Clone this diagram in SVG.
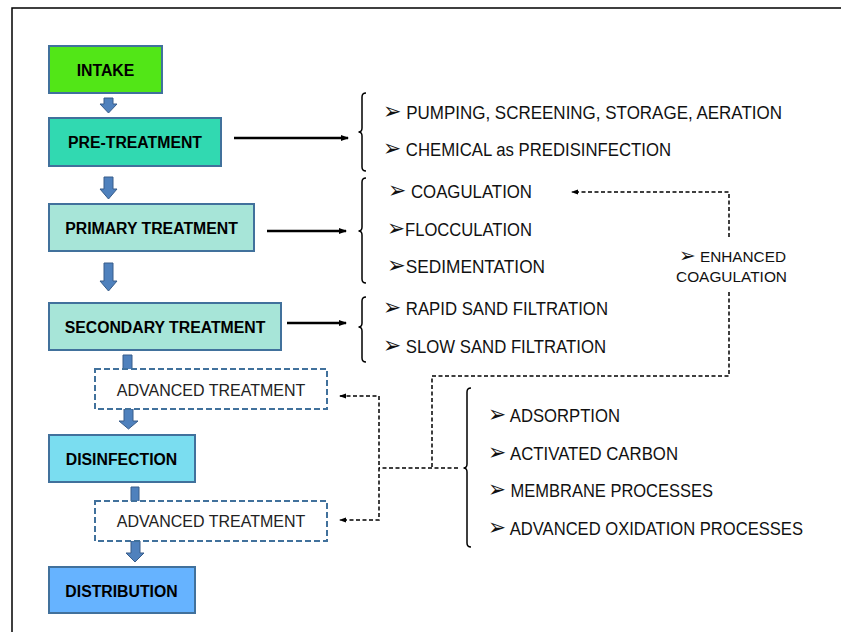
<svg xmlns="http://www.w3.org/2000/svg" width="841" height="632" viewBox="0 0 841 632">
<defs>
<style>
.box{stroke:#41719C;stroke-width:2}
.dbox{fill:#fff;stroke:#41719C;stroke-width:2;stroke-dasharray:6 3}
.bt{font-family:"Liberation Sans",Arial,sans-serif;font-weight:bold;font-size:15.8px;fill:#000;text-anchor:middle}
.at{font-family:"Liberation Sans",Arial,sans-serif;font-size:16px;fill:#222;text-anchor:middle}
.lt{font-family:"Liberation Sans","DejaVu Sans",sans-serif;font-size:18px;fill:#111}
.st{font-family:"Liberation Sans","DejaVu Sans",sans-serif;font-size:15px;fill:#111}
.ar{font-family:"DejaVu Sans",sans-serif;font-size:1.3em}
.blk{fill:#4F81BD;stroke:#385D8A;stroke-width:1}
.sol{stroke:#000;stroke-width:2.3;fill:none}
.dash{stroke:#000;stroke-width:1.5;fill:none;stroke-dasharray:4 2.5}
.brace{stroke:#000;stroke-width:1.5;fill:none}
</style>
<marker id="ah" markerWidth="8" markerHeight="8" refX="7" refY="4" orient="auto" markerUnits="userSpaceOnUse">
<path d="M0,1 L8,4 L0,7 Z" fill="#000"/>
</marker>
<marker id="dh" markerWidth="7" markerHeight="6" refX="6" refY="3" orient="auto-start-reverse" markerUnits="userSpaceOnUse">
<path d="M0,0.5 L7,3 L0,5.5 Z" fill="#000"/>
</marker>
</defs>
<rect width="841" height="632" fill="#fff"/>
<path d="M12,632 V8 H841" fill="none" stroke="#000" stroke-width="1.5"/>

<g id="connectors">
<path class="blk" d="M104,98 H113 V104 H117 L108.5,113 L100,104 H104 Z"/>
<path class="blk" d="M104,177 H113 V189 H117 L108.5,199 L100,189 H104 Z"/>
<path class="blk" d="M104,263 H113 V281 H117 L108.5,291 L100,281 H104 Z"/>
<path class="blk" d="M123,355 H132 V375 H123 Z"/>
<path class="blk" d="M124,409 H133 V421 H138 L128.5,429 L119,421 H124 Z"/>
<path class="blk" d="M131,487 H139 V505 H131 Z"/>
<path class="blk" d="M131,541 H140 V553 H144 L135,562 L126,553 H131 Z"/>
<path class="sol" d="M234,138 H348" marker-end="url(#ah)"/>
<path class="sol" d="M267,231 H346" marker-end="url(#ah)"/>
<path class="sol" d="M287,323 H346" marker-end="url(#ah)"/>
<path class="dash" d="M729,237 V192 H572" marker-end="url(#dh)"/>
<path class="dash" d="M729,292 V376 H432 V468"/>
<path class="dash" d="M458,468 H379"/>
<path class="dash" d="M340,396 H379 V520 H340" marker-start="url(#dh)" marker-end="url(#dh)"/>
<path class="brace" d="M366,93 Q362,93 362,97 V128 Q362,132 358.5,132 Q362,132 362,136 V167 Q362,171 366,171"/>
<path class="brace" d="M366,178 Q362,178 362,182 V227 Q362,231 358.5,231 Q362,231 362,235 V279 Q362,283 366,283"/>
<path class="brace" d="M366,297 Q362,297 362,301 V323 Q362,327 358.5,327 Q362,327 362,331 V358 Q362,362 366,362"/>
<path class="brace" d="M471,388 Q467,388 467,392 V464 Q467,468 463.5,468 Q467,468 467,472 V543 Q467,547 471,547"/>
</g>

<g id="intake"><rect class="box" x="49" y="46" width="113" height="47" fill="#52E617"/><text class="bt" x="105.5" y="76">INTAKE</text></g>
<g id="pretreatment"><rect class="box" x="49" y="118" width="172" height="48" fill="#31D9B1"/><text class="bt" x="135" y="148">PRE-TREATMENT</text></g>
<g id="primary"><rect class="box" x="49" y="204" width="205" height="47" fill="#A7E5D8"/><text class="bt" x="151.5" y="234">PRIMARY TREATMENT</text></g>
<g id="secondary"><rect class="box" x="49" y="303" width="232" height="47" fill="#A7E5D8"/><text class="bt" x="165" y="333">SECONDARY TREATMENT</text></g>
<g id="advanced1"><rect class="dbox" x="95" y="369" width="232" height="40"/><text class="at" x="211" y="396">ADVANCED TREATMENT</text></g>
<g id="disinfection"><rect class="box" x="49" y="435" width="146" height="47" fill="#7ADDF0"/><text class="bt" x="121.5" y="465">DISINFECTION</text></g>
<g id="advanced2"><rect class="dbox" x="95" y="501" width="232" height="40"/><text class="at" x="211" y="527">ADVANCED TREATMENT</text></g>
<g id="distribution"><rect class="box" x="49" y="567" width="146" height="46" fill="#66B3FF"/><text class="bt" x="121.5" y="597">DISTRIBUTION</text></g>

<g id="pretreatment-items">
<text class="lt" x="383" y="119" textLength="399" lengthAdjust="spacingAndGlyphs"><tspan class="ar">➢</tspan> PUMPING, SCREENING, STORAGE, AERATION</text>
<text class="lt" x="383" y="156" textLength="288" lengthAdjust="spacingAndGlyphs"><tspan class="ar">➢</tspan> CHEMICAL as PREDISINFECTION</text>
</g>
<g id="primary-items">
<text class="lt" x="388" y="198" textLength="144" lengthAdjust="spacingAndGlyphs"><tspan class="ar">➢</tspan> COAGULATION</text>
<text class="lt" x="387" y="236" textLength="145" lengthAdjust="spacingAndGlyphs"><tspan class="ar">➢</tspan>FLOCCULATION</text>
<text class="lt" x="387" y="273" textLength="158" lengthAdjust="spacingAndGlyphs"><tspan class="ar">➢</tspan>SEDIMENTATION</text>
</g>
<g id="enhanced">
<text class="st" x="679" y="262" textLength="107" lengthAdjust="spacingAndGlyphs"><tspan class="ar">➢</tspan> ENHANCED</text>
<text class="st" x="676" y="282" textLength="111" lengthAdjust="spacingAndGlyphs">COAGULATION</text>
</g>
<g id="secondary-items">
<text class="lt" x="383" y="315" textLength="225" lengthAdjust="spacingAndGlyphs"><tspan class="ar">➢</tspan> RAPID SAND FILTRATION</text>
<text class="lt" x="383" y="353" textLength="223" lengthAdjust="spacingAndGlyphs"><tspan class="ar">➢</tspan> SLOW SAND FILTRATION</text>
</g>
<g id="advanced-items">
<text class="lt" x="488" y="422" textLength="132" lengthAdjust="spacingAndGlyphs"><tspan class="ar">➢</tspan> ADSORPTION</text>
<text class="lt" x="488" y="460" textLength="190" lengthAdjust="spacingAndGlyphs"><tspan class="ar">➢</tspan> ACTIVATED CARBON</text>
<text class="lt" x="488" y="497" textLength="225" lengthAdjust="spacingAndGlyphs"><tspan class="ar">➢</tspan> MEMBRANE PROCESSES</text>
<text class="lt" x="488" y="535" textLength="315" lengthAdjust="spacingAndGlyphs"><tspan class="ar">➢</tspan> ADVANCED OXIDATION PROCESSES</text>
</g>
</svg>
